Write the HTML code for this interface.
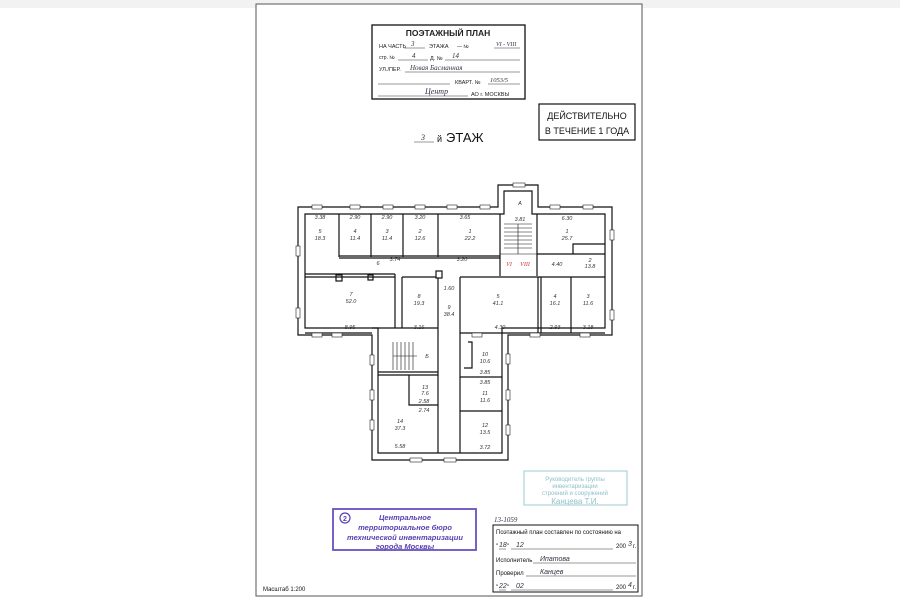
<!DOCTYPE html>
<html><head><meta charset="utf-8"><style>
html,body{margin:0;padding:0;background:#fff;}
svg{display:block}
text{font-family:"Liberation Sans","DejaVu Sans",sans-serif;}
.h{font-family:"Liberation Serif",serif;font-style:italic;}
</style></head><body>
<svg width="900" height="604" viewBox="0 0 900 604" xmlns="http://www.w3.org/2000/svg">
<rect x="0" y="0" width="900" height="604" fill="#fff"/>
<rect x="0" y="0" width="900" height="8" fill="#f2f2f2"/>
<rect x="256" y="4" width="386" height="592" fill="#fff" stroke="#555" stroke-width="1"/>
<rect x="372" y="25" width="153" height="74" fill="none" stroke="#111" stroke-width="1.3"/>
<text x="448" y="36" font-size="8.5" font-weight="bold" text-anchor="middle" fill="#222">ПОЭТАЖНЫЙ ПЛАН</text>
<text x="379" y="48" font-size="5.5" fill="#222">НА ЧАСТЬ</text>
<line x1="404" y1="48" x2="425" y2="48" stroke="#333" stroke-width="0.5"/>
<text x="411" y="46" font-size="7" class="h" fill="#334">3</text>
<text x="429" y="48" font-size="5.5" fill="#222">ЭТАЖА</text>
<text x="457" y="48" font-size="5" fill="#222">— №</text>
<text x="496" y="46" font-size="6" class="h" fill="#334">VI - VIII</text>
<line x1="494" y1="48" x2="520" y2="48" stroke="#333" stroke-width="0.5"/>
<text x="379" y="59" font-size="5" fill="#222">стр. №</text>
<line x1="398" y1="60" x2="428" y2="60" stroke="#333" stroke-width="0.5"/>
<text x="412" y="58" font-size="7" class="h" fill="#334">4</text>
<text x="430" y="60" font-size="5.5" fill="#222">Д. №</text>
<line x1="445" y1="60" x2="520" y2="60" stroke="#333" stroke-width="0.5"/>
<text x="452" y="58" font-size="7" class="h" fill="#334">14</text>
<text x="379" y="71" font-size="5.5" fill="#222">УЛ./ПЕР.</text>
<line x1="405" y1="72" x2="520" y2="72" stroke="#333" stroke-width="0.5"/>
<text x="410" y="70" font-size="7" class="h" fill="#334">Новая Басманная</text>
<line x1="378" y1="84" x2="450" y2="84" stroke="#333" stroke-width="0.5"/>
<text x="455" y="84" font-size="5.5" fill="#222">КВАРТ. №</text>
<text x="490" y="82" font-size="6.5" class="h" fill="#334">1053/5</text>
<line x1="488" y1="84" x2="520" y2="84" stroke="#333" stroke-width="0.5"/>
<line x1="378" y1="96" x2="468" y2="96" stroke="#333" stroke-width="0.5"/>
<text x="425" y="94" font-size="8" class="h" fill="#334">Центр</text>
<text x="471" y="96" font-size="5.5" fill="#222">АО г. МОСКВЫ</text>
<rect x="539" y="104" width="96" height="36" fill="none" stroke="#111" stroke-width="1.2"/>
<text x="587" y="119" font-size="9" text-anchor="middle" fill="#111">ДЕЙСТВИТЕЛЬНО</text>
<text x="587" y="134" font-size="9" text-anchor="middle" fill="#111">В ТЕЧЕНИЕ 1 ГОДА</text>
<line x1="414" y1="142" x2="434" y2="142" stroke="#333" stroke-width="0.6"/>
<text x="421" y="140" font-size="8" class="h" fill="#334">3</text>
<text x="437" y="142" font-size="9" fill="#111">й</text>
<text x="446" y="142" font-size="13" fill="#111">ЭТАЖ</text>

<g fill="none" stroke="#111" stroke-width="1.2">
<path d="M298,207 H498 V185 H538 V207 H612 V335 H508 V460 H372 V335 H298 Z"/>
<path d="M305,214 H504 V191 H532 V214 H605 V328 H502 V453 H378 V328 H305 Z"/>
<line x1="339" y1="214" x2="339" y2="257"/>
<line x1="371" y1="214" x2="371" y2="257"/>
<line x1="403" y1="214" x2="403" y2="257"/>
<line x1="438" y1="214" x2="438" y2="257"/>
<line x1="339" y1="256" x2="500" y2="256"/>
<line x1="339" y1="258" x2="500" y2="258"/>
<line x1="500" y1="214" x2="500" y2="276"/>
<line x1="537" y1="214" x2="537" y2="276"/>
<g stroke-width="0.6"><line x1="504" y1="224" x2="532" y2="224"/><line x1="504" y1="228" x2="532" y2="228"/><line x1="504" y1="232" x2="532" y2="232"/><line x1="504" y1="236" x2="532" y2="236"/><line x1="504" y1="240" x2="532" y2="240"/><line x1="504" y1="244" x2="532" y2="244"/><line x1="504" y1="248" x2="532" y2="248"/><line x1="518" y1="224" x2="518" y2="254"/><line x1="500" y1="254" x2="537" y2="254"/></g>
<line x1="537" y1="254" x2="605" y2="254"/>
<path d="M573,254 V244 H605"/>
<line x1="305" y1="274" x2="395" y2="274"/>
<line x1="305" y1="277" x2="395" y2="277"/>
<line x1="395" y1="274" x2="395" y2="328"/>
<line x1="402" y1="277" x2="402" y2="328"/>
<line x1="402" y1="277" x2="436" y2="277"/>
<rect x="436" y="271" width="6" height="7"/>
<rect x="336" y="275" width="6" height="6"/>
<rect x="368" y="275" width="5" height="5"/>
<line x1="438" y1="278" x2="438" y2="453"/>
<line x1="460" y1="277" x2="460" y2="453"/>
<line x1="460" y1="277" x2="605" y2="277"/>
<line x1="538" y1="277" x2="538" y2="333"/>
<line x1="541" y1="277" x2="541" y2="333"/>
<line x1="571" y1="277" x2="571" y2="333"/>
<line x1="460" y1="333" x2="605" y2="333"/>
<line x1="305" y1="333" x2="372" y2="333"/>
<line x1="372" y1="328" x2="438" y2="328"/>
<line x1="378" y1="372" x2="438" y2="372"/>
<line x1="378" y1="375" x2="438" y2="375"/>
<path d="M409,375 V405 H438"/>
<g stroke-width="0.6"><line x1="393" y1="342" x2="393" y2="370"/><line x1="397" y1="342" x2="397" y2="370"/><line x1="401" y1="342" x2="401" y2="370"/><line x1="405" y1="342" x2="405" y2="370"/><line x1="409" y1="342" x2="409" y2="370"/><line x1="413" y1="342" x2="413" y2="370"/><line x1="393" y1="356" x2="417" y2="356"/></g>
<line x1="460" y1="377" x2="502" y2="377"/>
<line x1="460" y1="411" x2="502" y2="411"/>
<path d="M468,342 H472 V368 H464"/>
</g>
<g fill="#fff" stroke="#222" stroke-width="0.6">
<rect x="312" y="205" width="10" height="4"/><rect x="350" y="205" width="10" height="4"/><rect x="383" y="205" width="10" height="4"/><rect x="415" y="205" width="10" height="4"/><rect x="447" y="205" width="10" height="4"/><rect x="480" y="205" width="10" height="4"/><rect x="513" y="183" width="12" height="4"/><rect x="550" y="205" width="10" height="4"/><rect x="583" y="205" width="10" height="4"/>
<rect x="296" y="246" width="4" height="10"/><rect x="296" y="308" width="4" height="10"/><rect x="610" y="230" width="4" height="10"/><rect x="610" y="310" width="4" height="10"/>
<rect x="312" y="333" width="10" height="4"/><rect x="332" y="333" width="10" height="4"/><rect x="472" y="333" width="10" height="4"/><rect x="530" y="333" width="10" height="4"/><rect x="580" y="333" width="10" height="4"/>
<rect x="370" y="355" width="4" height="10"/><rect x="370" y="390" width="4" height="10"/><rect x="370" y="420" width="4" height="10"/><rect x="506" y="354" width="4" height="10"/><rect x="506" y="390" width="4" height="10"/><rect x="506" y="425" width="4" height="10"/>
<rect x="410" y="458" width="12" height="4"/><rect x="444" y="458" width="12" height="4"/>
</g>
<g class="h" font-size="5.5" fill="#333" text-anchor="middle">
<text x="320" y="219">3.38</text><text x="355" y="219">2.90</text><text x="387" y="219">2.90</text><text x="420" y="219">3.20</text><text x="465" y="219">3.65</text><text x="520" y="221">3.81</text><text x="567" y="220">6.30</text>
<text x="320" y="233">5</text><text x="320" y="240">18.3</text><text x="355" y="233">4</text><text x="355" y="240">11.4</text><text x="387" y="233">3</text><text x="387" y="240">11.4</text><text x="420" y="233">2</text><text x="420" y="240">12.6</text><text x="470" y="233">1</text><text x="470" y="240">22.2</text><text x="520" y="205">А</text><text x="567" y="233">1</text><text x="567" y="240">25.7</text>
<text x="378" y="265">6</text><text x="395" y="261">3.74</text><text x="462" y="261">3.20</text><text x="557" y="266">4.40</text><text x="590" y="262">2</text><text x="590" y="268">13.8</text>
<text x="351" y="296">7</text><text x="351" y="303">52.0</text><text x="350" y="329">8.95</text>
<text x="419" y="298">8</text><text x="419" y="305">19.3</text><text x="419" y="329">3.16</text>
<text x="449" y="290">1.60</text><text x="449" y="309">9</text><text x="449" y="316">38.4</text>
<text x="498" y="298">5</text><text x="498" y="305">41.1</text><text x="500" y="329">4.30</text>
<text x="555" y="298">4</text><text x="555" y="305">16.1</text><text x="555" y="329">2.93</text>
<text x="588" y="298">3</text><text x="588" y="305">11.6</text><text x="588" y="329">3.18</text>
<text x="427" y="358">Б</text>
<text x="425" y="389">13</text><text x="425" y="395">7.6</text><text x="424" y="403">2.58</text><text x="424" y="412">2.74</text>
<text x="400" y="423">14</text><text x="400" y="430">37.3</text><text x="400" y="448">5.58</text>
<text x="485" y="356">10</text><text x="485" y="363">10.6</text><text x="485" y="374">3.85</text><text x="485" y="384">3.85</text>
<text x="485" y="395">11</text><text x="485" y="402">11.6</text><text x="485" y="427">12</text><text x="485" y="434">13.5</text><text x="485" y="449">3.72</text>
</g>
<text x="509" y="266" font-size="6" class="h" fill="#c33" text-anchor="middle">VI</text>
<text x="525" y="266" font-size="6" class="h" fill="#c33" text-anchor="middle">VIII</text>

<rect x="524" y="471" width="103" height="34" fill="none" stroke="#9cc8cf" stroke-width="1"/>
<g fill="#8fc0c9" font-size="6" text-anchor="middle"><text x="575" y="481">Руководитель группы</text><text x="575" y="488">инвентаризации</text><text x="575" y="495">строений и сооружений</text><text x="575" y="504" font-size="8">Канцева Т.И.</text></g>
<rect x="333" y="509" width="143" height="41" fill="none" stroke="#6a50c0" stroke-width="1.8"/>
<circle cx="345" cy="518" r="5" fill="none" stroke="#5a40b0" stroke-width="1.2"/>
<text x="345" y="521" font-size="7" text-anchor="middle" fill="#5a40b0" font-weight="bold">2</text>
<g fill="#5a40b0" font-size="7.5" font-style="italic" font-weight="bold" text-anchor="middle"><text x="405" y="520">Центральное</text><text x="405" y="530">территориальное бюро</text><text x="405" y="540">технической инвентаризации</text><text x="405" y="549">города Москвы</text></g>
<text x="494" y="522" font-size="7" class="h" fill="#334">13-1059</text>
<rect x="493" y="525" width="145" height="67" fill="none" stroke="#111" stroke-width="1"/>
<g font-size="6" fill="#111"><text x="496" y="534">Поэтажный план составлен по состоянию на</text>
<text x="496" y="548">"</text><text x="507" y="548">"</text><text x="616" y="548">200</text><text x="633" y="548">г.</text>
<text x="496" y="562">Исполнитель</text><text x="496" y="575">Проверил</text>
<text x="496" y="589">"</text><text x="507" y="589">"</text><text x="616" y="589">200</text><text x="633" y="589">г.</text></g>
<g stroke="#333" stroke-width="0.5"><line x1="499" y1="549" x2="506" y2="549"/><line x1="511" y1="549" x2="613" y2="549"/><line x1="533" y1="563" x2="636" y2="563"/><line x1="526" y1="576" x2="636" y2="576"/><line x1="499" y1="590" x2="506" y2="590"/><line x1="511" y1="590" x2="613" y2="590"/></g>
<g class="h" fill="#334" font-size="7"><text x="499" y="547">18</text><text x="516" y="547">12</text><text x="628" y="546">3</text><text x="540" y="561">Ипатова</text><text x="540" y="574">Канцев</text><text x="499" y="588">22</text><text x="516" y="588">02</text><text x="628" y="587">4</text></g>
<text x="263" y="591" font-size="6" fill="#111">Масштаб 1:200</text>
</svg>
</body></html>
